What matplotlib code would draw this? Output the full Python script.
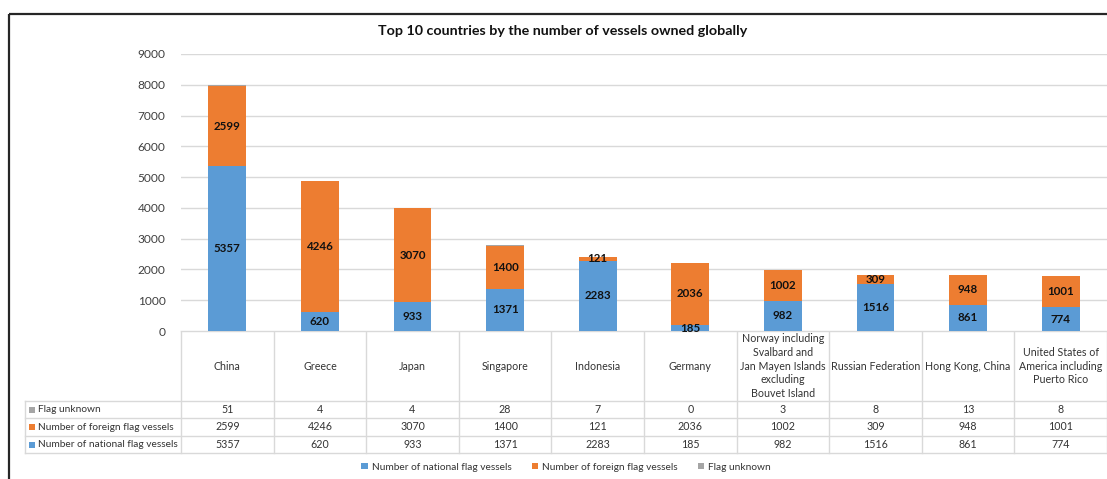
import matplotlib.pyplot as plt
from matplotlib.patches import Rectangle

plt.rcParams['font.family'] = ['Lato', 'DejaVu Sans']

# data
countries = ['China', 'Greece', 'Japan', 'Singapore', 'Indonesia', 'Germany',
             'Norway including\nSvalbard and\nJan Mayen Islands\nexcluding\nBouvet Island',
             'Russian Federation', 'Hong Kong, China',
             'United States of\nAmerica including\nPuerto Rico']
national = [5357, 620, 933, 1371, 2283, 185, 982, 1516, 861, 774]
foreign = [2599, 4246, 3070, 1400, 121, 2036, 1002, 309, 948, 1001]
unknown = [51, 4, 4, 28, 7, 0, 3, 8, 13, 8]
series_names = ['Number of national flag vessels', 'Number of foreign flag vessels', 'Flag unknown']
colors = ['#5B9BD5', '#ED7D31', '#A5A5A5']

W, H = 1107, 479
fig = plt.figure(figsize=(W / 100, H / 100), dpi=100)

# pixel geometry of the plot area
x0, x1 = 181, 1107
y_top, y_zero = 54, 331
ax = fig.add_axes([x0 / W, 1 - y_zero / H, (x1 - x0) / W, (y_zero - y_top) / H])
n = len(countries)
xs = list(range(n))
bw = 0.41

b1 = ax.bar(xs, national, bw, color=colors[0], zorder=3)
b2 = ax.bar(xs, foreign, bw, bottom=national, color=colors[1], zorder=3)
bottom3 = [a + b for a, b in zip(national, foreign)]
b3 = ax.bar(xs, unknown, bw, bottom=bottom3, color=colors[2], zorder=3)

for i in xs:
    ax.text(i, national[i] / 2, str(national[i]), ha='center', va='center',
            fontsize=8.3, fontweight='bold', color='#111111', zorder=4)
    ax.text(i, national[i] + foreign[i] / 2, str(foreign[i]), ha='center', va='center',
            fontsize=8.3, fontweight='bold', color='#111111', zorder=4)

ax.set_xlim(-0.5, n - 0.5)
ax.set_ylim(0, 9000)
ax.set_yticks(range(0, 9001, 1000))
ax.set_xticks([])
ax.tick_params(axis='y', length=0, pad=11, labelsize=8.6, labelcolor='#404040')
ax.grid(axis='y', color='#D9D9D9', linewidth=1, zorder=0)
for s in ax.spines.values():
    s.set_visible(False)

# overlay in pixel coordinates for the data table and frame
ov = fig.add_axes([0, 0, 1, 1], zorder=-1)
ov.set_xlim(0, W)
ov.set_ylim(H, 0)
ov.axis('off')

ov.add_patch(Rectangle((8.5, 13.5), 1200, 600, fill=False, edgecolor='#262626', linewidth=1.6))
ov.text(563, 31, 'Top 10 countries by the number of vessels owned globally',
        ha='center', va='center', fontsize=10.3, fontweight='bold', color='#111111')

lc = '#D9D9D9'
colw = (x1 - x0) / n
row_edges = [401, 418, 436, 453]
lab_x = 25
# horizontal lines
ov.plot([x0, x1], [y_zero, y_zero], color=lc, lw=1)
for y in row_edges:
    ov.plot([lab_x, x1], [y, y], color=lc, lw=1)
# vertical lines
for i in range(n + 1):
    ov.plot([x0 + i * colw] * 2, [y_zero, row_edges[-1]], color=lc, lw=1)
ov.plot([lab_x, lab_x], [row_edges[0], row_edges[-1]], color=lc, lw=1)

tc = '#333333'
for i, c in enumerate(countries):
    ov.text(x0 + (i + 0.5) * colw, 366, c, ha='center', va='center',
            fontsize=7.7, color=tc, linespacing=1.32)

rows = [(series_names[2], colors[2], unknown),
        (series_names[1], colors[1], foreign),
        (series_names[0], colors[0], national)]
for r, (name, col, vals) in enumerate(rows):
    yc = (row_edges[r] + row_edges[r + 1]) / 2
    ov.add_patch(Rectangle((29, yc - 3), 6, 6, color=col, lw=0))
    ov.text(38, yc, name, ha='left', va='center', fontsize=7.3, color=tc)
    for i, v in enumerate(vals):
        ov.text(x0 + (i + 0.5) * colw, yc, str(v), ha='center', va='center',
                fontsize=7.7, color=tc)

fig.legend([b1, b2, b3], series_names, loc='center', bbox_to_anchor=(566 / W, 1 - 467 / H),
           ncol=3, frameon=False, fontsize=7.3, handlelength=0.6, handleheight=0.6,
           handletextpad=0.4, columnspacing=2.0, labelcolor=tc)

fig.savefig('out.png', dpi=100)
